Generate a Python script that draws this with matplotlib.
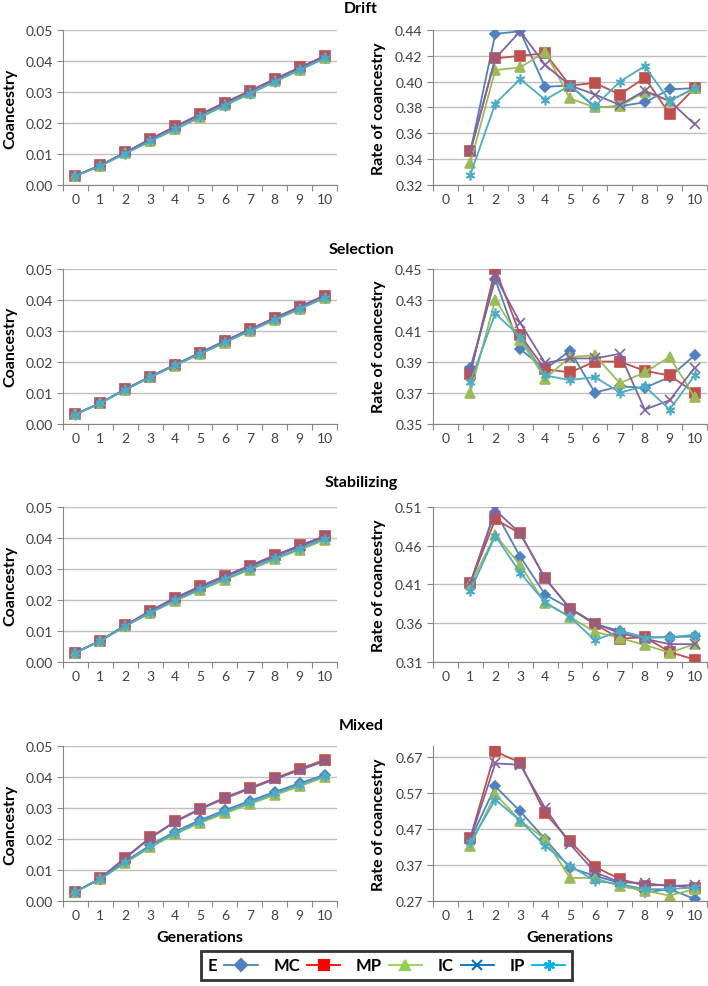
import matplotlib
matplotlib.use('Agg')
import matplotlib.pyplot as plt
from matplotlib.lines import Line2D

plt.rcParams['font.family'] = ['Lato', 'DejaVu Sans']

# =============================================================================
# data
# =============================================================================
gens = list(range(11))          # 0..10 for coancestry
rate_gens = list(range(1, 11))  # 1..10 for rate of coancestry
series = ['E', 'MC', 'MP', 'IC', 'IP']
scenarios = ['Drift', 'Selection', 'Stabilizing', 'Mixed']

drift_coan = {
    'E':  [0.0030, 0.0062, 0.0104, 0.0146, 0.0187, 0.0225, 0.0263, 0.0301, 0.0339, 0.0376, 0.0413],
    'MC': [0.0030, 0.0063, 0.0105, 0.0148, 0.0189, 0.0228, 0.0266, 0.0304, 0.0342, 0.0379, 0.0416],
    'MP': [0.0030, 0.0062, 0.0102, 0.0143, 0.0181, 0.0220, 0.0258, 0.0296, 0.0334, 0.0371, 0.0410],
    'IC': [0.0030, 0.0063, 0.0105, 0.0147, 0.0188, 0.0227, 0.0265, 0.0303, 0.0341, 0.0378, 0.0415],
    'IP': [0.0029, 0.0061, 0.0101, 0.0141, 0.0179, 0.0218, 0.0256, 0.0294, 0.0333, 0.0370, 0.0409],
}
selection_coan = {
    'E':  [0.0030, 0.0066, 0.0110, 0.0150, 0.0189, 0.0227, 0.0265, 0.0302, 0.0339, 0.0375, 0.0410],
    'MC': [0.0030, 0.0066, 0.0111, 0.0151, 0.0190, 0.0228, 0.0267, 0.0304, 0.0341, 0.0377, 0.0413],
    'MP': [0.0030, 0.0066, 0.0109, 0.0149, 0.0187, 0.0224, 0.0261, 0.0298, 0.0334, 0.0369, 0.0405],
    'IC': [0.0030, 0.0066, 0.0111, 0.0151, 0.0190, 0.0228, 0.0266, 0.0303, 0.0340, 0.0376, 0.0412],
    'IP': [0.0029, 0.0066, 0.0109, 0.0149, 0.0188, 0.0225, 0.0262, 0.0299, 0.0335, 0.0370, 0.0406],
}
stabilizing_coan = {
    'E':  [0.0030, 0.0069, 0.0117, 0.0162, 0.0203, 0.0240, 0.0274, 0.0307, 0.0340, 0.0372, 0.0402],
    'MC': [0.0030, 0.0069, 0.0118, 0.0165, 0.0207, 0.0244, 0.0278, 0.0311, 0.0344, 0.0376, 0.0406],
    'MP': [0.0030, 0.0068, 0.0115, 0.0158, 0.0197, 0.0232, 0.0265, 0.0298, 0.0331, 0.0362, 0.0393],
    'IC': [0.0030, 0.0069, 0.0118, 0.0165, 0.0206, 0.0243, 0.0277, 0.0310, 0.0343, 0.0375, 0.0405],
    'IP': [0.0029, 0.0068, 0.0116, 0.0159, 0.0199, 0.0234, 0.0268, 0.0301, 0.0334, 0.0366, 0.0397],
}
mixed_coan = {
    'E':  [0.0030, 0.0072, 0.0128, 0.0180, 0.0224, 0.0261, 0.0293, 0.0323, 0.0352, 0.0380, 0.0407],
    'MC': [0.0030, 0.0073, 0.0140, 0.0205, 0.0257, 0.0298, 0.0334, 0.0365, 0.0396, 0.0426, 0.0456],
    'MP': [0.0030, 0.0071, 0.0123, 0.0173, 0.0216, 0.0252, 0.0283, 0.0313, 0.0342, 0.0370, 0.0400],
    'IC': [0.0030, 0.0073, 0.0138, 0.0203, 0.0255, 0.0296, 0.0331, 0.0362, 0.0393, 0.0422, 0.0451],
    'IP': [0.0030, 0.0071, 0.0125, 0.0176, 0.0220, 0.0256, 0.0288, 0.0318, 0.0347, 0.0375, 0.0404],
}

drift_rate = {
    'E':  [0.346, 0.437, 0.439, 0.396, 0.397, 0.380, 0.381, 0.384, 0.394, 0.395],
    'MC': [0.346, 0.418, 0.420, 0.422, 0.397, 0.399, 0.390, 0.403, 0.375, 0.395],
    'MP': [0.337, 0.409, 0.411, 0.423, 0.387, 0.380, 0.381, 0.392, 0.385, 0.395],
    'IC': [0.346, 0.418, 0.439, 0.413, 0.397, 0.390, 0.382, 0.393, 0.385, 0.367],
    'IP': [0.328, 0.383, 0.402, 0.386, 0.397, 0.381, 0.400, 0.412, 0.385, 0.395],
}
selection_rate = {
    'E':  [0.386, 0.443, 0.398, 0.385, 0.397, 0.370, 0.374, 0.373, 0.380, 0.394],
    'MC': [0.382, 0.450, 0.407, 0.385, 0.383, 0.390, 0.390, 0.384, 0.381, 0.370],
    'MP': [0.370, 0.430, 0.404, 0.379, 0.393, 0.394, 0.376, 0.383, 0.393, 0.367],
    'IC': [0.384, 0.445, 0.415, 0.389, 0.392, 0.392, 0.395, 0.359, 0.365, 0.386],
    'IP': [0.377, 0.421, 0.406, 0.381, 0.378, 0.380, 0.370, 0.374, 0.359, 0.381],
}
stabilizing_rate = {
    'E':  [0.412, 0.504, 0.446, 0.397, 0.379, 0.359, 0.350, 0.342, 0.342, 0.343],
    'MC': [0.412, 0.494, 0.476, 0.418, 0.379, 0.359, 0.340, 0.342, 0.323, 0.313],
    'MP': [0.410, 0.474, 0.435, 0.386, 0.368, 0.349, 0.341, 0.332, 0.322, 0.333],
    'IC': [0.412, 0.506, 0.476, 0.418, 0.379, 0.360, 0.347, 0.340, 0.333, 0.333],
    'IP': [0.402, 0.473, 0.425, 0.387, 0.368, 0.338, 0.350, 0.341, 0.342, 0.345],
}
mixed_rate = {
    'E':  [0.440, 0.588, 0.519, 0.442, 0.362, 0.340, 0.320, 0.294, 0.303, 0.276],
    'MC': [0.445, 0.685, 0.654, 0.513, 0.436, 0.365, 0.331, 0.313, 0.315, 0.305],
    'MP': [0.423, 0.567, 0.493, 0.442, 0.334, 0.334, 0.311, 0.299, 0.285, 0.303],
    'IC': [0.442, 0.652, 0.648, 0.528, 0.428, 0.350, 0.322, 0.320, 0.311, 0.315],
    'IP': [0.433, 0.551, 0.493, 0.423, 0.368, 0.326, 0.317, 0.303, 0.303, 0.308],
}

coan_data = [drift_coan, selection_coan, stabilizing_coan, mixed_coan]
rate_data = [drift_rate, selection_rate, stabilizing_rate, mixed_rate]

coan_ticks = [0.00, 0.01, 0.02, 0.03, 0.04, 0.05]
rate_ticks = [
    [0.32, 0.34, 0.36, 0.38, 0.40, 0.42, 0.44],
    [0.35, 0.37, 0.39, 0.41, 0.43, 0.45],
    [0.31, 0.36, 0.41, 0.46, 0.51],
    [0.27, 0.37, 0.47, 0.57, 0.67],
]
rate_ylims = [(0.32, 0.44), (0.35, 0.45), (0.31, 0.51), (0.27, 0.70)]

# =============================================================================
# styles
# =============================================================================
line_colors = {'E': '#4F81BD', 'MC': '#C0504D', 'MP': '#9BBB59', 'IC': '#8064A2', 'IP': '#4BACC6'}
legend_colors = {'E': '#4F81BD', 'MC': '#FF0000', 'MP': '#92D050', 'IC': '#0070C0', 'IP': '#00B0F0'}
markers = {'E': 'D', 'MC': 's', 'MP': '^', 'IC': 'x', 'IP': (6, 2, 0)}
msizes = {'E': 5, 'MC': 6.5, 'MP': 6.5, 'IC': 6.5, 'IP': 7}

GRID = '#BFBFBF'
TXT = '#404040'

fig = plt.figure(figsize=(7.08, 9.87), dpi=100)

row_bottoms = [0.8116, 0.5699, 0.3283, 0.0861]
row_h = 0.157
left_x, right_x, ax_w = 0.089, 0.6116, 0.387
title_y = [1 - 9/987, 1 - 250/987, 1 - 483/987, 1 - 726/987]


def style_axis(ax, xlabel):
    ax.set_xlim(-0.5, 10.5)
    ax.set_xticks(gens)
    ax.set_xticklabels([str(g) for g in gens])
    ax.set_xticks([g - 0.5 for g in range(12)], minor=True)
    ax.tick_params(axis='x', which='major', length=0, labelsize=10, colors=TXT, pad=6)
    ax.tick_params(axis='x', which='minor', length=4, color='#868686', width=0.8)
    ax.tick_params(axis='y', length=4, color='#868686', width=0.8, labelsize=10, labelcolor=TXT)
    for s in ['top', 'right']:
        ax.spines[s].set_visible(False)
    for s in ['left', 'bottom']:
        ax.spines[s].set_color('#868686')
        ax.spines[s].set_linewidth(0.8)
    ax.yaxis.grid(True, color=GRID, linewidth=1)
    ax.set_axisbelow(True)
    if xlabel:
        ax.set_xlabel('Generations', fontsize=11.5, fontweight='bold', labelpad=6)


for r in range(4):
    # coancestry panel
    ax = fig.add_axes([left_x, row_bottoms[r], ax_w, row_h])
    for s in series:
        ax.plot(gens, coan_data[r][s], color=line_colors[s], marker=markers[s],
                markersize=msizes[s], linewidth=1.3, markeredgewidth=1.2)
    ax.set_ylim(0, 0.05)
    ax.set_yticks(coan_ticks)
    ax.set_yticklabels([f'{t:.2f}' for t in coan_ticks])
    style_axis(ax, r == 3)
    ax.set_ylabel('Coancestry', fontsize=11.5, fontweight='bold')
    ax.yaxis.set_label_coords(-0.166, 0.5)

    # rate panel
    ax = fig.add_axes([right_x, row_bottoms[r], ax_w, row_h])
    for s in series:
        ax.plot(rate_gens, rate_data[r][s], color=line_colors[s], marker=markers[s],
                markersize=msizes[s], linewidth=1.3, markeredgewidth=1.2)
    ax.set_ylim(*rate_ylims[r])
    ax.set_yticks(rate_ticks[r])
    ax.set_yticklabels([f'{t:.2f}' for t in rate_ticks[r]])
    style_axis(ax, r == 3)
    ax.set_ylabel('Rate of coancestry', fontsize=11.5, fontweight='bold')
    ax.yaxis.set_label_coords(-0.172, 0.5)

    fig.text(0.51, title_y[r], scenarios[r], ha='center', va='center',
             fontsize=11.5, fontweight='bold')

# legend: label first, then line + marker
handles = [Line2D([], [], color=legend_colors[s], marker=markers[s], markersize=msizes[s] + 1,
                  linewidth=1.3, markeredgewidth=1.5) for s in series]
leg = fig.legend(handles, series, loc='center', bbox_to_anchor=(0.546, 0.0208), ncol=5,
                 markerfirst=False, frameon=True, fancybox=False, handlelength=2.0,
                 columnspacing=0.95, handletextpad=0.4, borderpad=0.4,
                 prop={'weight': 'bold', 'size': 12})
leg.get_frame().set_edgecolor('black')
leg.get_frame().set_linewidth(2)

fig.savefig('out.png', dpi=100)
